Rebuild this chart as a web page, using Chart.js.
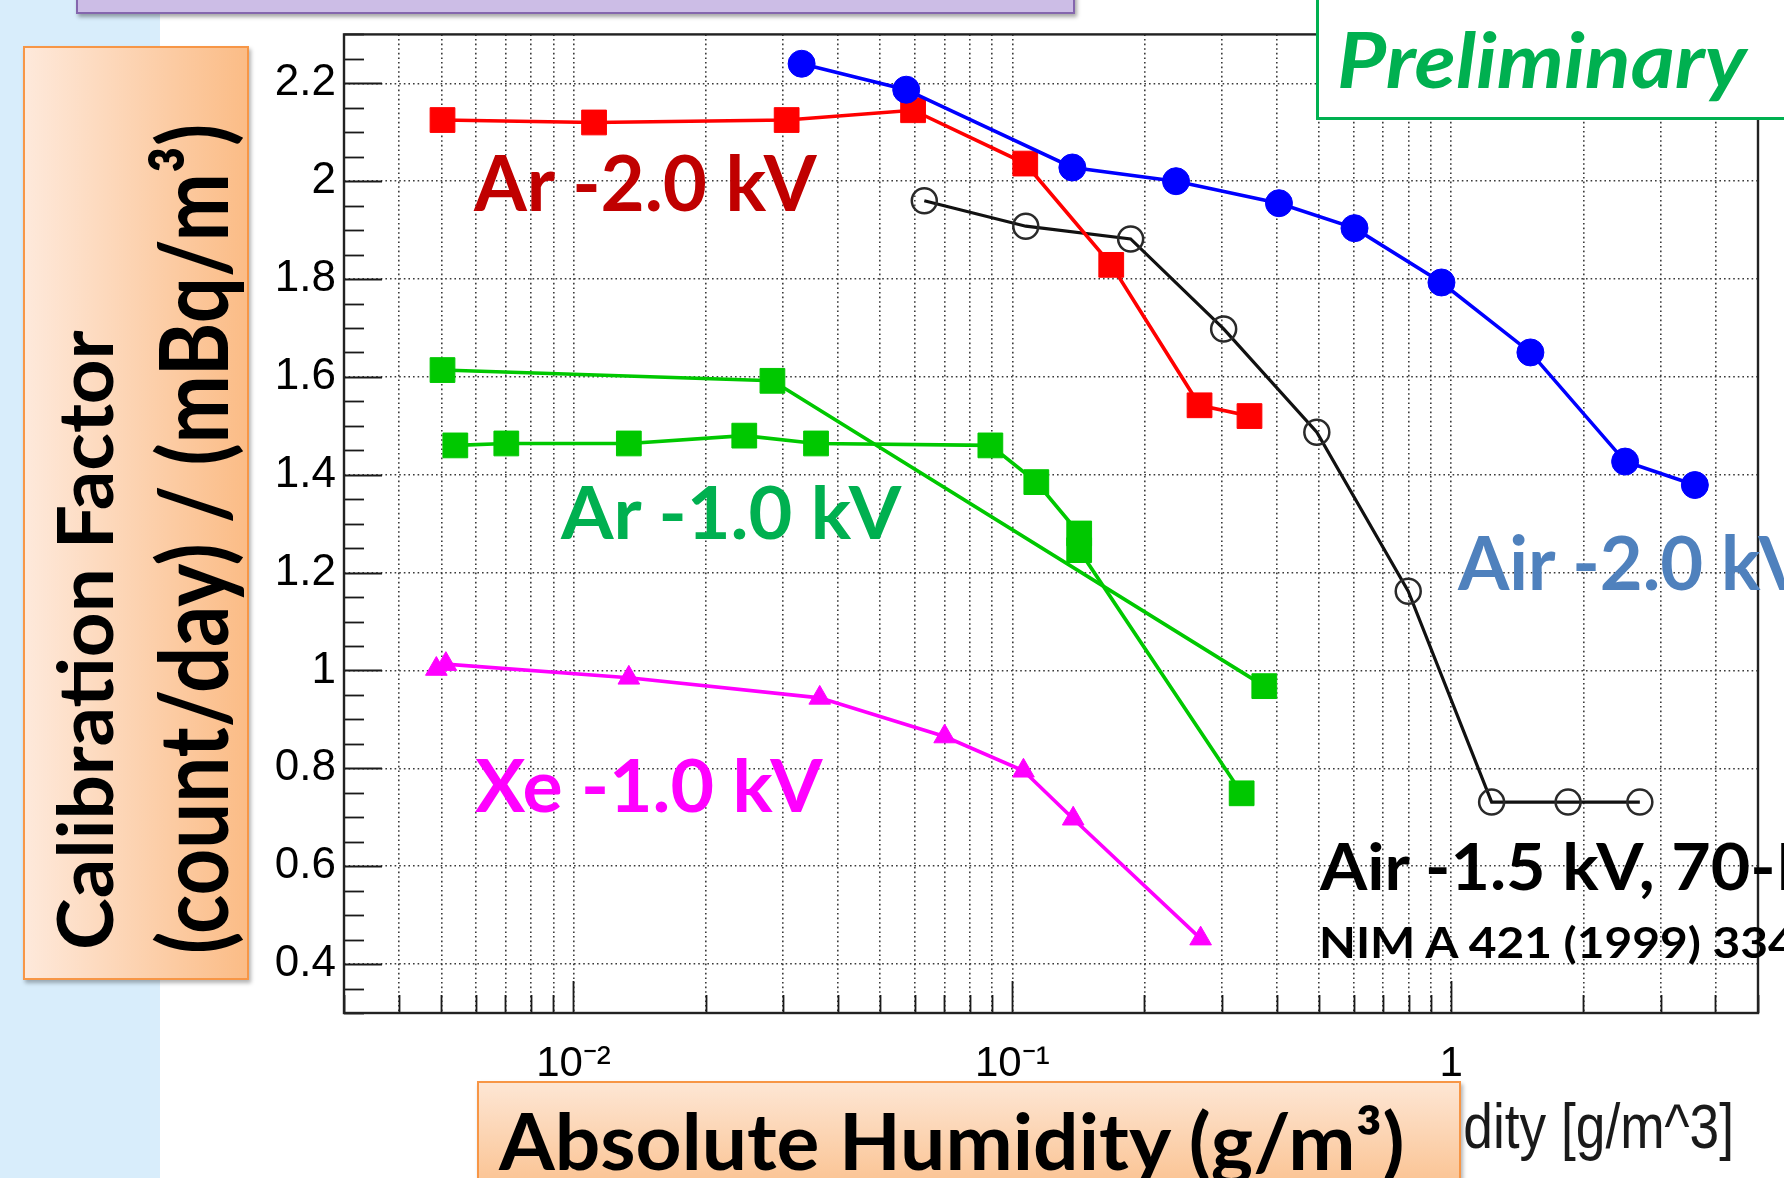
<!DOCTYPE html>
<html>
<head>
<meta charset="utf-8">
<script src="https://cdn.jsdelivr.net/npm/chart.js@4.4.1/dist/chart.umd.min.js"></script>
<style>
  html, body { margin:0; padding:0; background:#fff; width:1784px; height:1178px; overflow:hidden; position:relative; }
  #strip { position:absolute; left:0; top:0; width:160px; height:1178px; background:#d8edfb; z-index:0; }
  #chartWrap { position:absolute; left:0; top:0; width:1784px; height:1178px; z-index:1; }
  #c { display:block; }
  .box { position:absolute; box-sizing:border-box; z-index:3; }
  #purple { left:76px; top:-12px; width:999px; height:26px; background:#ccbde6; border:2px solid #8466ad; box-shadow:2px 3px 4px rgba(0,0,0,.35); }
  #ybox { left:23px; top:46px; width:226px; height:934px; background:linear-gradient(to right,#fee9db,#fbbc86); border:2px solid #f79646; box-shadow:2px 3px 4px rgba(0,0,0,.3); }
  #xbox { left:477px; top:1081px; width:984px; height:104px; background:linear-gradient(to bottom,#fde6d4,#fbc494); border:2px solid #f79646; box-shadow:2px 3px 4px rgba(0,0,0,.3); }
  #prelim { left:1316px; top:-10px; width:520px; height:130px; background:#fff; border:3px solid #00b050; }
  .t { position:absolute; white-space:nowrap; z-index:5; margin:0; padding:0; }
  .t.under { z-index:2; }
</style>
</head>
<body>
<div id="strip"></div>
<div id="chartWrap"><canvas id="c" width="1784" height="1178"></canvas></div>
<div class="box" id="purple"></div>
<div class="box" id="ybox"></div>
<div class="box" id="xbox"></div>
<div class="box" id="prelim"></div>
<script>
// ---------------- data ----------------
const airHV2X  = [0.0331, 0.0573, 0.137, 0.236, 0.405, 0.602, 0.950, 1.515, 2.49, 3.59];
const airHV2Y  = [2.240, 2.187, 2.028, 2.000, 1.955, 1.904, 1.793, 1.650, 1.427, 1.379];

const arHV2X   = [0.00503, 0.01114, 0.0306, 0.0594, 0.107, 0.168, 0.267, 0.347];
const arHV2Y   = [2.125, 2.120, 2.125, 2.145, 2.036, 1.829, 1.542, 1.520];

const arHV1aX  = [0.00503, 0.0284, 0.375];
const arHV1aY  = [1.614, 1.592, 0.968];

const arHV1bX  = [0.00538, 0.00703, 0.01337, 0.0245, 0.0357, 0.0891, 0.1134, 0.142, 0.142, 0.333];
const arHV1bY  = [1.460, 1.464, 1.464, 1.480, 1.464, 1.460, 1.385, 1.280, 1.246, 0.749];

const xeHV1X   = [0.00487, 0.00512, 0.01337, 0.0364, 0.0701, 0.106, 0.1376, 0.2685];
const xeHV1Y   = [1.003, 1.013, 0.985, 0.944, 0.865, 0.795, 0.697, 0.452];

const air70X   = [0.0630, 0.1073, 0.186, 0.303, 0.494, 0.798, 1.236, 1.846, 2.69];
const air70Y   = [1.960, 1.908, 1.882, 1.698, 1.487, 1.162, 0.731, 0.731, 0.731];

const seriesNames = ['Air -2.0 kV', 'Ar -2.0 kV', 'Ar -1.0 kV (a)', 'Ar -1.0 kV (b)', 'Xe -1.0 kV', 'Air -1.5 kV, 70-L'];

const xRange = [0.003, 5];
const yRange = [0.3, 2.3];
const xTickValues = [0.01, 0.1, 1];
const xTickLabels = ['10\u207B\u00B2', '10\u207B\u00B9', '1'];
const yTickValues = [0.4, 0.6, 0.8, 1.0, 1.2, 1.4, 1.6, 1.8, 2.0, 2.2];
const yTickLabels = ['0.4', '0.6', '0.8', '1', '1.2', '1.4', '1.6', '1.8', '2', '2.2'];
const yMinorStep = 0.05;

// ---------------- helpers ----------------
function pts(xs, ys) { return xs.map((x, i) => ({ x: x, y: ys[i] })); }
function findIdx(arr, v) { return arr.findIndex(t => Math.abs(t - v) < 1e-9 * Math.max(1, Math.abs(t))); }
function isYMajor(v) { return findIdx(yTickValues, v) >= 0; }

const gridColor = '#3a3a3a';
const gridDash = [1.6, 3];

const rootAxes = {
  id: 'rootAxes',
  beforeDatasetsDraw(chart) {
    const { ctx, chartArea: a, scales } = chart;
    const x = scales.x, y = scales.y;
    ctx.save();
    ctx.strokeStyle = '#1a1a1a';
    ctx.lineWidth = 1.8;
    x.ticks.forEach(t => {
      const px = Math.round(x.getPixelForValue(t.value)) + 0.5;
      const len = findIdx(xTickValues, t.value) >= 0 ? 32 : 18;
      ctx.beginPath(); ctx.moveTo(px, a.bottom); ctx.lineTo(px, a.bottom - len); ctx.stroke();
    });
    y.ticks.forEach(t => {
      const py = Math.round(y.getPixelForValue(t.value)) + 0.5;
      const len = isYMajor(t.value) ? 38 : 20;
      ctx.beginPath(); ctx.moveTo(a.left, py); ctx.lineTo(a.left + len, py); ctx.stroke();
    });
    ctx.lineWidth = 2.4;
    ctx.strokeStyle = '#222';
    ctx.strokeRect(a.left, a.top, a.right - a.left, a.bottom - a.top);
    ctx.restore();
  }
};

function ds(label, xs, ys, color, style, radius, extra) {
  return Object.assign({
    label: label,
    data: pts(xs, ys),
    borderColor: color,
    backgroundColor: color,
    pointBackgroundColor: color,
    pointBorderColor: color,
    pointBorderWidth: 1,
    borderWidth: 3.6,
    pointStyle: style,
    pointRadius: radius,
    tension: 0,
    fill: false
  }, extra || {});
}

const chart = new Chart(document.getElementById('c'), {
  type: 'line',
  data: {
    datasets: [
      ds(seriesNames[0], airHV2X, airHV2Y, '#0000ff', 'circle', 13.5),
      ds(seriesNames[1], arHV2X, arHV2Y, '#ff0000', 'rect', 17.5),
      ds(seriesNames[2], arHV1aX, arHV1aY, '#00c800', 'rect', 17.5),
      ds(seriesNames[3], arHV1bX, arHV1bY, '#00c800', 'rect', 17.5),
      ds(seriesNames[4], xeHV1X, xeHV1Y, '#ff00ff', 'triangle', 12.5),
      ds(seriesNames[5], air70X, air70Y, '#111111', 'circle', 12.5,
         { pointBackgroundColor: 'rgba(0,0,0,0)', pointBorderColor: '#2a2a2a', pointBorderWidth: 2.5, borderWidth: 3.2 })
    ]
  },
  options: {
    responsive: false,
    animation: false,
    events: [],
    devicePixelRatio: 1,
    layout: { padding: { left: 244, right: 26, top: 32, bottom: 65 }, autoPadding: false },
    plugins: { legend: { display: false }, tooltip: { enabled: false }, title: { display: false } },
    scales: {
      x: {
        type: 'logarithmic',
        position: 'bottom',
        min: xRange[0], max: xRange[1],
        afterBuildTicks: (scale) => {
          const t = [];
          for (let e = -3; e <= 0; e++) {
            for (let m = 1; m <= 9; m++) {
              const v = +(m * Math.pow(10, e)).toPrecision(6);
              if (v >= xRange[0] - 1e-12 && v <= xRange[1] + 1e-12) t.push({ value: v, major: m === 1 });
            }
          }
          scale.ticks = t;
        },
        afterFit: (scale) => { scale.height = 100; },
        grid: { color: gridColor, lineWidth: 1.6, drawTicks: false },
        border: { display: false, dash: gridDash },
        ticks: {
          autoSkip: false, maxRotation: 0, minRotation: 0, padding: 26,
          color: '#000', font: { family: '"Liberation Sans", Arial, sans-serif', size: 42 },
          callback: (v) => { const i = findIdx(xTickValues, v); return i >= 0 ? xTickLabels[i] : ''; }
        }
      },
      y: {
        type: 'linear',
        position: 'left',
        min: yRange[0], max: yRange[1],
        afterBuildTicks: (scale) => {
          const t = [];
          const n = Math.round((yRange[1] - yRange[0]) / yMinorStep);
          for (let k = 0; k <= n; k++) t.push({ value: +(yRange[0] + k * yMinorStep).toFixed(4) });
          scale.ticks = t;
        },
        afterFit: (scale) => { scale.width = 100; },
        grid: {
          color: (ctx) => (ctx.tick && isYMajor(ctx.tick.value)) ? gridColor : 'rgba(0,0,0,0)',
          lineWidth: 1.6, drawTicks: false
        },
        border: { display: false, dash: gridDash },
        ticks: {
          autoSkip: false, padding: 8,
          color: '#000', font: { family: '"Liberation Sans", Arial, sans-serif', size: 44 },
          callback: (v) => { const i = findIdx(yTickValues, v); return i >= 0 ? yTickLabels[i] : ''; }
        }
      }
    }
  },
  plugins: [rootAxes]
});

// ---------------- slide texts (real HTML text) ----------------
const mctx = document.createElement('canvas').getContext('2d');
function fontCss(o, size) { return (o.style || 'normal') + ' ' + (o.weight || 'bold') + ' ' + size + 'px ' + o.family; }
function addText(o) {
  mctx.font = fontCss(o, 100);
  const capRef = mctx.measureText(o.capChar || 'H').actualBoundingBoxAscent / 100;
  const size = o.cap / capRef;
  mctx.font = fontCss(o, size);
  const full = mctx.measureText(o.text);
  const fm = mctx.measureText(o.fit || o.text);
  const s = o.width / (fm.actualBoundingBoxLeft + fm.actualBoundingBoxRight);
  const el = document.createElement('div');
  el.className = 't' + (o.under ? ' under' : '');
  el.style.font = fontCss(o, size);
  el.style.color = o.color;
  el.appendChild(document.createTextNode(o.text));
  const mk = document.createElement('span');
  mk.style.cssText = 'display:inline-block;width:0;height:0;vertical-align:baseline;';
  el.appendChild(mk);
  document.body.appendChild(el);
  const bo = mk.offsetTop;
  el.style.transformOrigin = '0px ' + bo + 'px';
  let ox, oy;
  if (o.rotate) {
    ox = o.baseline;
    oy = o.start - s * fm.actualBoundingBoxLeft;
    el.style.transform = 'rotate(-90deg) scaleX(' + s + ')';
  } else if (o.alignRight) {
    ox = o.inkRight - s * full.actualBoundingBoxRight;
    oy = o.baseline;
    el.style.transform = 'scaleX(' + s + ')';
  } else {
    ox = o.inkLeft + s * fm.actualBoundingBoxLeft;
    oy = o.baseline;
    el.style.transform = 'scaleX(' + s + ')';
  }
  el.style.left = ox + 'px';
  el.style.top = (oy - bo) + 'px';
}

addText({ text: 'Ar -2.0 kV', family: 'Lato', color: '#c00000', cap: 56, inkLeft: 473, width: 346, baseline: 211 });
addText({ text: 'Ar -1.0 kV', family: 'Lato', color: '#00b050', cap: 52.5, inkLeft: 560, width: 344, baseline: 538.5 });
addText({ text: 'Xe -1.0 kV', family: 'Lato', color: '#ff00ff', cap: 53, inkLeft: 475, width: 348, baseline: 812 });
addText({ text: 'Air -2.0 kV', family: 'Lato', color: '#4f81bd', cap: 55, inkLeft: 1457, fit: 'Air -2.0', width: 246, baseline: 590 });
addText({ text: 'Air -1.5 kV, 70-L', family: 'Lato', color: '#000', cap: 47, inkLeft: 1319, fit: 'Air -1.5 kV,', width: 335, baseline: 890 });
addText({ text: 'NIM A 421 (1999) 334', family: 'Lato', color: '#000', cap: 31, inkLeft: 1322, fit: 'NIM A 421 (1999)', width: 381, baseline: 958 });
addText({ text: 'Preliminary', family: 'Lato', style: 'italic', color: '#00b050', cap: 55, inkLeft: 1339, width: 410, baseline: 88 });
addText({ text: 'Absolute Humidity [g/m^3]', family: '"Liberation Sans"', weight: 'normal', color: '#1a1a1a', cap: 46, capChar: 'd',
          alignRight: true, inkRight: 1731, fit: 'dity [g/m^3]', width: 266, baseline: 1148, under: true });
addText({ text: 'Absolute Humidity (g/m\u00B3)', family: 'Lato', color: '#000', cap: 57, inkLeft: 498, width: 906, baseline: 1170 });
addText({ text: 'Calibration Factor', family: 'Lato', color: '#000', cap: 56, rotate: true, baseline: 113, start: 948, width: 618 });
addText({ text: '(count/day) / (mBq/m\u00B3)', family: 'Lato', color: '#000', cap: 70, rotate: true, baseline: 228, start: 951, width: 825 });
</script>
</body>
</html>
